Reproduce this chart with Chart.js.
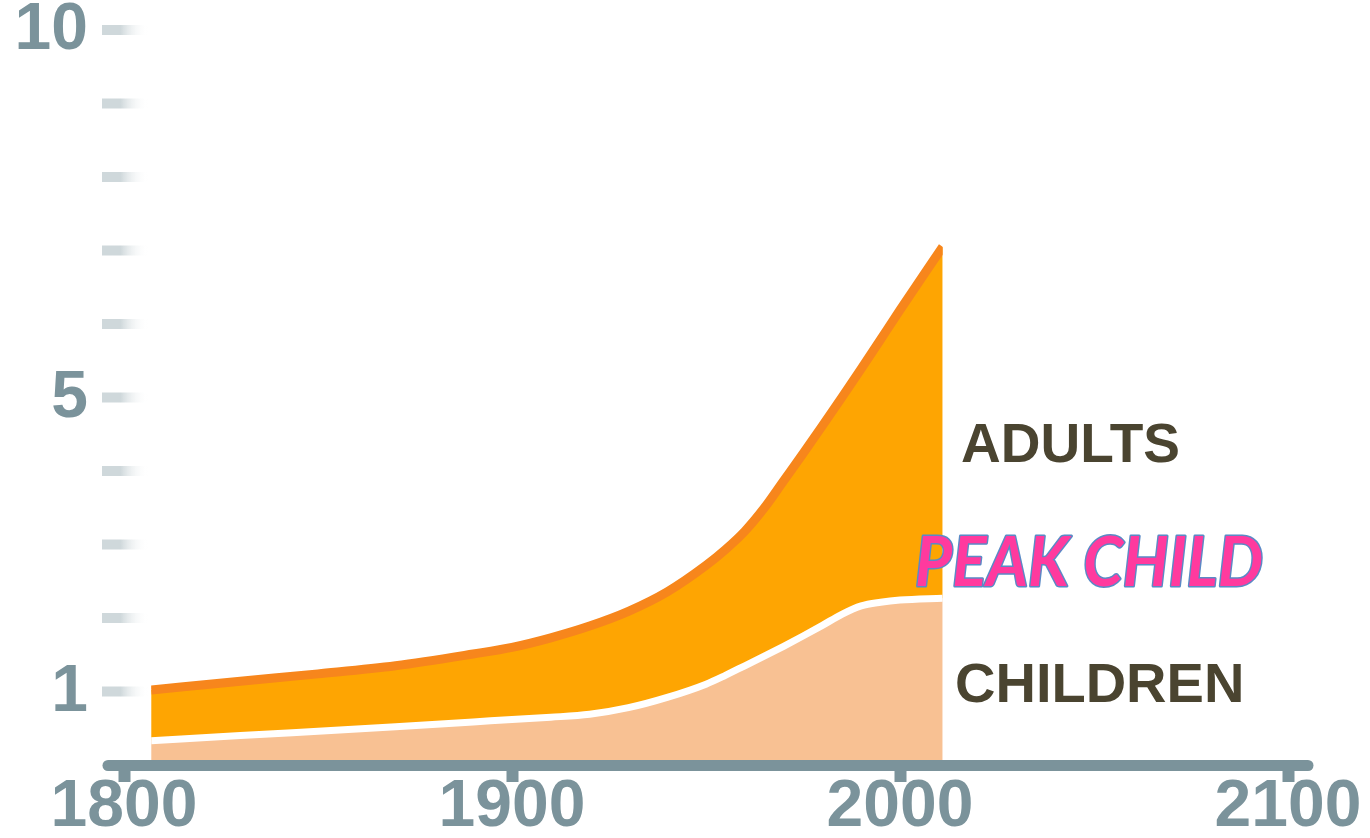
<!DOCTYPE html>
<html>
<head>
<meta charset="utf-8">
<title>Peak Child</title>
<script src="https://cdn.jsdelivr.net/npm/chart.js@4.4.1/dist/chart.umd.min.js"></script>
<style>
  html, body { margin: 0; padding: 0; background: #fff; }
  #wrap { width: 1370px; height: 838px; position: relative; }
</style>
</head>
<body>
<div id="wrap"><canvas id="peakChart"></canvas></div>
<script>
// world population in billions
const years    = [1807, 1830, 1850, 1870, 1890, 1900, 1910, 1920, 1930, 1940, 1950, 1955, 1960, 1965, 1970, 1975, 1980, 1985, 1990, 1995, 2000, 2011];
const totalPop = [1.02, 1.14, 1.24, 1.35, 1.51, 1.60, 1.73, 1.89, 2.09, 2.355, 2.715, 2.93, 3.18, 3.495, 3.865, 4.235, 4.615, 5.00, 5.39, 5.79, 6.19, 7.05];
const childPop = [0.33, 0.40, 0.46, 0.52, 0.585, 0.62, 0.65, 0.69, 0.78, 0.92, 1.10, 1.22, 1.35, 1.48, 1.615, 1.755, 1.90, 2.05, 2.165, 2.215, 2.245, 2.27];

const xTicks = [1800, 1900, 2000, 2100];
const yTicks = [1, 2, 3, 4, 5, 6, 7, 8, 9, 10];
const yLabels = [1, 5, 10];

const axisColor = '#7B939B';
const textColor = '#4A4430';

const toPoints = (vals) => vals.map((v, i) => ({ x: years[i], y: v }));

// keep the line strokes inside the first / last year so the ends stay square
const clipToData = {
  id: 'clipToData',
  beforeDatasetDraw(chart) {
    const { ctx, chartArea, scales: { x } } = chart;
    const l = x.getPixelForValue(years[0]);
    const r = x.getPixelForValue(years[years.length - 1]);
    ctx.save();
    ctx.beginPath();
    ctx.rect(l, chartArea.top - 20, r - l, chartArea.bottom - chartArea.top + 40);
    ctx.clip();
  },
  afterDatasetDraw(chart) {
    chart.ctx.restore();
  }
};

// y dashes + labels, axis line and the side captions
const decorations = {
  id: 'decorations',
  beforeDatasetsDraw(chart) {
    const { ctx, scales: { y } } = chart;
    ctx.save();
    yTicks.forEach(v => {
      const py = y.getPixelForValue(v);
      const g = ctx.createLinearGradient(102, 0, 148, 0);
      g.addColorStop(0, '#CFD8DB');
      g.addColorStop(0.4, '#CFD8DB');
      g.addColorStop(1, 'rgba(255,255,255,0)');
      ctx.fillStyle = g;
      ctx.fillRect(102, py - 5, 46, 10);
    });
    ctx.fillStyle = axisColor;
    ctx.font = 'bold 66px "Liberation Sans", Arial, sans-serif';
    ctx.textAlign = 'right';
    ctx.textBaseline = 'middle';
    yLabels.forEach(v => {
      ctx.fillText(String(v), 88, y.getPixelForValue(v) + 1);
    });
    ctx.restore();
  },
  afterDraw(chart) {
    const { ctx, scales: { x, y } } = chart;
    ctx.save();
    // x axis line with round ends
    const y0 = y.getPixelForValue(0) + 0.5;
    ctx.strokeStyle = axisColor;
    ctx.lineWidth = 11;
    ctx.lineCap = 'round';
    ctx.beginPath();
    ctx.moveTo(x.left - 16, y0);
    ctx.lineTo(x.right + 20, y0);
    ctx.stroke();

    ctx.textAlign = 'left';
    ctx.textBaseline = 'alphabetic';
    ctx.fillStyle = textColor;
    ctx.font = 'bold 55px "Liberation Sans", Arial, sans-serif';
    ctx.fillText('ADULTS', 961, 462);
    ctx.font = 'bold 56px "Liberation Sans", Arial, sans-serif';
    ctx.fillText('CHILDREN', 955, 702);

    ctx.font = 'italic bold 68px Lato, "Open Sans", sans-serif';
    ctx.lineJoin = 'round';
    ctx.lineWidth = 3;
    ctx.strokeStyle = '#5A8AC6';
    ctx.strokeText('PEAK CHILD', 915, 586, 348);
    ctx.fillStyle = '#FF3A9E';
    ctx.fillText('PEAK CHILD', 915, 586, 348);
    ctx.restore();
  }
};

new Chart(document.getElementById('peakChart'), {
  type: 'line',
  data: {
    datasets: [{
      label: 'Children',
      data: toPoints(childPop),
      borderColor: '#FFFFFF',
      borderWidth: 7,
      backgroundColor: '#F8C193',
      fill: 'origin',
      pointRadius: 0,
      cubicInterpolationMode: 'monotone'
    }, {
      label: 'Total',
      data: toPoints(totalPop),
      borderColor: '#F7861C',
      borderWidth: 9,
      borderJoinStyle: 'round',
      backgroundColor: '#FEA502',
      fill: '-1',
      pointRadius: 0,
      cubicInterpolationMode: 'monotone'
    }]
  },
  options: {
    responsive: true,
    maintainAspectRatio: false,
    animation: false,
    layout: { padding: { left: 124, right: 82, top: 30, bottom: 0 } },
    plugins: {
      legend: { display: false },
      tooltip: { enabled: false }
    },
    scales: {
      x: {
        type: 'linear',
        min: 1800,
        max: 2100,
        afterBuildTicks: (s) => { s.ticks = xTicks.map(v => ({ value: v })); },
        afterFit: (s) => { s.height = 73; },
        border: { display: false },
        grid: {
          drawOnChartArea: false,
          drawTicks: true,
          tickLength: 17,
          tickWidth: 12,
          tickColor: axisColor
        },
        ticks: {
          color: axisColor,
          font: { family: '"Liberation Sans", Arial, sans-serif', size: 66, weight: 'bold', lineHeight: 1 },
          padding: -7,
          maxRotation: 0,
          autoSkip: false,
          callback: (v) => String(v)
        }
      },
      y: {
        display: false,
        min: 0,
        max: 10
      }
    }
  },
  plugins: [clipToData, decorations]
});
</script>
</body>
</html>
